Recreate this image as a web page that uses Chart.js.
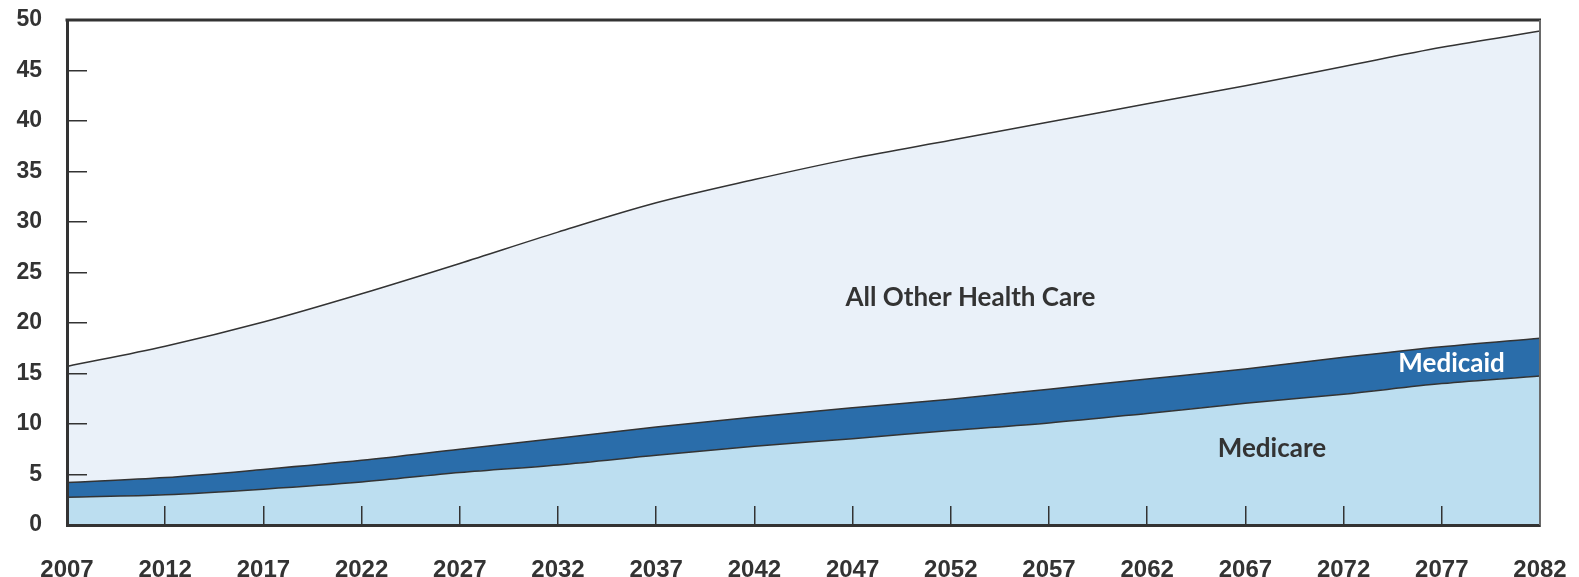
<!DOCTYPE html>
<html>
<head>
<meta charset="utf-8">
<script src="https://cdn.jsdelivr.net/npm/chart.js@4/dist/chart.umd.min.js"></script>
<style>
  html, body { margin: 0; padding: 0; background: #ffffff; }
  #wrap { width: 1579px; height: 577px; }
</style>
</head>
<body>
<div id="wrap"><canvas id="c" width="1579" height="577"></canvas></div>
<script>
// ---- data ----
const years = ['2007','2012','2017','2022','2027','2032','2037','2042','2047','2052','2057','2062','2067','2072','2077','2082'];
const medicare = [2.75, 3.0, 3.55, 4.25, 5.2, 5.95, 6.9, 7.8, 8.55, 9.35, 10.1, 11.05, 12.05, 12.95, 14.0, 14.75];
const medicaid = [1.45, 1.7, 1.95, 2.15, 2.3, 2.65, 2.8, 2.9, 3.05, 3.1, 3.35, 3.4, 3.4, 3.65, 3.65, 3.75];
const otherCare = [11.5, 13.0, 14.6, 16.5, 18.4, 20.4, 22.2, 23.5, 24.7, 25.65, 26.45, 27.25, 28.05, 28.8, 29.65, 30.4];
const yTicks = [0, 5, 10, 15, 20, 25, 30, 35, 40, 45, 50];
const seriesNames = ['Medicare', 'Medicaid', 'All Other Health Care'];

const INK = '#333333';

// in-chart series labels (x as year index, y as value)
const areaLabels = [
  { text: 'All Other Health Care', xi: 9.2,  y: 22.5, color: '#333333' },
  { text: 'Medicaid',              xi: 14.1, y: 15.95, color: '#ffffff' },
  { text: 'Medicare',              xi: 12.27, y: 7.6,  color: '#333333' }
];

const labelPlugin = {
  id: 'areaLabels',
  afterDatasetsDraw(chart) {
    const ctx = chart.ctx, xs = chart.scales.x, ys = chart.scales.y;
    ctx.save();
    ctx.font = 'bold 26px Lato';
    ctx.textAlign = 'center';
    ctx.textBaseline = 'middle';
    areaLabels.forEach(l => {
      ctx.fillStyle = l.color;
      ctx.fillText(l.text, xs.getPixelForValue(l.xi), ys.getPixelForValue(l.y));
    });
    ctx.restore();
  },
  afterDraw(chart) {
    const ctx = chart.ctx, a = chart.chartArea;
    ctx.save();
    ctx.strokeStyle = INK;
    ctx.lineWidth = 3;
    ctx.beginPath();
    ctx.moveTo(a.left - 1.5, a.top);
    ctx.lineTo(a.right + 1, a.top);
    ctx.stroke();
    ctx.strokeStyle = '#6a6a6a';
    ctx.lineWidth = 2;
    ctx.beginPath();
    ctx.moveTo(a.right, a.top);
    ctx.lineTo(a.right, a.bottom);
    ctx.stroke();
    ctx.restore();
  }
};

const common = { borderColor: INK, borderWidth: 1.5, pointRadius: 0, cubicInterpolationMode: 'monotone' };

function noPad(s) { s.paddingTop = 0; s.paddingBottom = 0; s.paddingLeft = 0; s.paddingRight = 0; }

new Chart(document.getElementById('c'), {
  type: 'line',
  data: {
    labels: years,
    datasets: [
      Object.assign({ label: seriesNames[0], data: medicare, backgroundColor: '#bcdef0', fill: 'origin' }, common),
      Object.assign({ label: seriesNames[1], data: medicaid, backgroundColor: '#2a6daa', fill: '-1' }, common),
      Object.assign({ label: seriesNames[2], data: otherCare, backgroundColor: '#eaf1f9', fill: '-1' }, common)
    ]
  },
  options: {
    responsive: false,
    animation: false,
    devicePixelRatio: 1,
    layout: { padding: { left: 0, right: 39, top: 20, bottom: 0 } },
    plugins: { legend: { display: false }, tooltip: { enabled: false } },
    scales: {
      x: {
        offset: false,
        grid: { display: true, drawOnChartArea: false, drawTicks: true, tickLength: -19, color: INK, lineWidth: 1.5, z: 1 },
        border: { display: true, color: INK, width: 3, z: 1 },
        ticks: { color: '#333333', font: { family: 'Liberation Sans', size: 24, weight: 'bold' }, padding: 50, maxRotation: 0, autoSkip: false },
        afterFit(s) { s.height = 52; noPad(s); }
      },
      y: {
        stacked: true,
        min: 0, max: 50,
        afterBuildTicks(s) { s.ticks = yTicks.map(v => ({ value: v })); },
        grid: { display: true, drawOnChartArea: false, drawTicks: true, tickLength: -20, color: INK, lineWidth: 1.5, z: 1 },
        border: { display: true, color: INK, width: 3, z: 1 },
        ticks: { color: '#333333', font: { family: 'Liberation Sans', size: 23, weight: 'bold' }, padding: 45 },
        afterFit(s) { s.width = 67; noPad(s); }
      }
    }
  },
  plugins: [labelPlugin]
});
</script>
</body>
</html>
